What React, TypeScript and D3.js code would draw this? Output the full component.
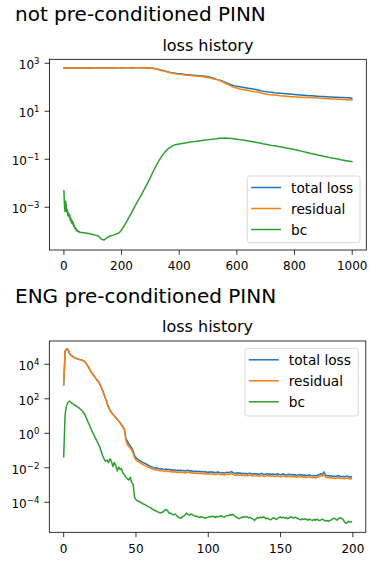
import React from 'react';
import * as d3 from 'd3';

// ---------------- data (log10 of loss values) ----------------
const seriesNames = ['total loss', 'residual', 'bc'];
const seriesColors = ['#1f77b4', '#ff7f0e', '#2ca02c'];

// top panel: not pre-conditioned PINN (1000 epochs, sampled)
const epochsTop = [...d3.range(0, 60, 2), ...d3.range(60, 1000, 10), 999];

const totalTopLog = [
  2.81, 2.80, 2.80, 2.81, 2.79, 2.81, 2.80, 2.80, 2.81, 2.79, 2.80, 2.81, 2.81, 2.80, 2.79,
  2.81, 2.81, 2.80, 2.79, 2.81, 2.80, 2.80, 2.81, 2.79, 2.80, 2.81, 2.81, 2.79, 2.80, 2.81,
  2.81, 2.80, 2.80, 2.81, 2.80, 2.81, 2.81, 2.80, 2.80, 2.82, 2.81, 2.80, 2.81, 2.82, 2.81,
  2.81, 2.82, 2.80, 2.81, 2.81, 2.82, 2.81, 2.80, 2.81, 2.80,
  2.79, 2.77, 2.74, 2.71, 2.68, 2.65, 2.62, 2.60, 2.58, 2.56,
  2.55, 2.53, 2.52, 2.51, 2.50, 2.49, 2.48, 2.47, 2.46, 2.44,
  2.41, 2.38, 2.33, 2.30, 2.26, 2.20, 2.15, 2.11, 2.07, 2.04,
  2.02, 2.00, 1.98, 1.96, 1.94, 1.92, 1.90, 1.87, 1.84, 1.82,
  1.80, 1.79, 1.77, 1.76, 1.75, 1.74, 1.73, 1.72, 1.71, 1.70,
  1.69, 1.68, 1.67, 1.66, 1.65, 1.65, 1.64, 1.63, 1.62, 1.62,
  1.61, 1.60, 1.60, 1.59, 1.59, 1.58, 1.57, 1.56, 1.56, 1.54,
];

const residualTopLog = [
  2.80, 2.79, 2.81, 2.80, 2.78, 2.80, 2.81, 2.79, 2.80, 2.80, 2.79, 2.81, 2.80, 2.79, 2.80,
  2.81, 2.80, 2.79, 2.80, 2.80, 2.81, 2.79, 2.80, 2.80, 2.79, 2.81, 2.80, 2.80, 2.79, 2.80,
  2.80, 2.81, 2.79, 2.80, 2.81, 2.80, 2.80, 2.81, 2.79, 2.81, 2.80, 2.81, 2.82, 2.81, 2.80,
  2.82, 2.81, 2.81, 2.80, 2.82, 2.81, 2.80, 2.81, 2.80, 2.79,
  2.78, 2.76, 2.73, 2.70, 2.67, 2.64, 2.61, 2.58, 2.56, 2.54,
  2.53, 2.51, 2.50, 2.49, 2.48, 2.47, 2.46, 2.45, 2.43, 2.41,
  2.38, 2.35, 2.32, 2.29, 2.23, 2.17, 2.11, 2.05, 2.00, 1.97,
  1.93, 1.91, 1.89, 1.87, 1.84, 1.82, 1.80, 1.78, 1.74, 1.72,
  1.70, 1.69, 1.68, 1.67, 1.65, 1.64, 1.63, 1.62, 1.61, 1.61,
  1.60, 1.59, 1.58, 1.57, 1.57, 1.56, 1.56, 1.55, 1.54, 1.53,
  1.53, 1.52, 1.51, 1.51, 1.50, 1.50, 1.49, 1.48, 1.48, 1.47,
];

const bcTopLog = [
  -2.31, -2.95, -3.18, -2.75, -2.90, -3.20, -3.10, -3.35, -3.25, -3.40,
  -3.30, -3.55, -3.45, -3.65, -3.55, -3.70, -3.62, -3.80, -3.75, -3.88,
  -3.85, -3.95, -3.92, -4.00, -3.98, -4.02, -4.01, -4.04, -4.03, -4.05,
  -4.05, -4.06, -4.08, -4.10, -4.13, -4.16, -4.20, -4.33, -4.36, -4.27,
  -4.20, -4.17, -4.12, -4.08, -3.95, -3.75, -3.55, -3.33, -3.10, -2.88,
  -2.66, -2.45, -2.22, -2.00, -1.76, -1.50, -1.27, -1.05, -0.87, -0.71,
  -0.58, -0.49, -0.42, -0.38, -0.36, -0.34, -0.32, -0.30, -0.28, -0.26,
  -0.25, -0.23, -0.22, -0.20, -0.19, -0.17, -0.15, -0.14, -0.12, -0.12,
  -0.11, -0.12, -0.13, -0.14, -0.16, -0.18, -0.20, -0.22, -0.24, -0.26,
  -0.28, -0.30, -0.32, -0.35, -0.37, -0.39, -0.42, -0.44, -0.46, -0.48,
  -0.50, -0.53, -0.55, -0.57, -0.59, -0.62, -0.65, -0.68, -0.71, -0.74,
  -0.77, -0.79, -0.82, -0.84, -0.87, -0.89, -0.92, -0.95, -0.97, -0.99,
  -1.02, -1.04, -1.06, -1.08, -1.10,
];

// bottom panel: ENG pre-conditioned PINN (200 epochs)
const epochsBottom = d3.range(0, 200);

const totalBottomLog = [
  2.82, 4.76, 4.90, 4.86, 4.63, 4.53, 4.47, 4.41, 4.37, 4.34,
  4.31, 4.28, 4.26, 4.23, 4.19, 4.11, 3.99, 3.87, 3.71, 3.57,
  3.45, 3.33, 3.21, 3.09, 3.01, 2.86, 2.67, 2.46, 2.23, 2.01,
  1.76, 1.51, 1.36, 1.21, 1.11, 1.01, 0.91, 0.81, 0.72, 0.62,
  0.50, 0.38, 0.24, -0.30, -0.45, -0.62, -0.72, -0.85, -1.02, -1.28,
  -1.42, -1.50, -1.55, -1.60, -1.66, -1.70, -1.74, -1.78, -1.83, -1.87,
  -1.92, -1.95, -1.99, -2.01, -2.00, -2.03, -2.05, -2.07, -2.05, -2.08,
  -2.10, -2.07, -2.11, -2.09, -2.13, -2.11, -2.15, -2.12, -2.16, -2.14,
  -2.17, -2.13, -2.18, -2.15, -2.19, -2.16, -2.14, -2.19, -2.17, -2.21,
  -2.18, -2.22, -2.19, -2.23, -2.20, -2.24, -2.21, -2.25, -2.22, -2.27,
  -2.24, -2.26, -2.23, -2.27, -2.25, -2.29, -2.26, -2.24, -2.28, -2.30,
  -2.27, -2.31, -2.28, -2.25, -2.29, -2.26, -2.22, -2.27, -2.31, -2.33,
  -2.29, -2.32, -2.30, -2.34, -2.31, -2.35, -2.32, -2.36, -2.33, -2.31,
  -2.35, -2.37, -2.33, -2.36, -2.34, -2.38, -2.35, -2.33, -2.37, -2.39,
  -2.36, -2.34, -2.38, -2.35, -2.39, -2.36, -2.40, -2.37, -2.35, -2.39,
  -2.41, -2.38, -2.36, -2.40, -2.42, -2.39, -2.37, -2.41, -2.38, -2.42,
  -2.40, -2.44, -2.41, -2.39, -2.43, -2.40, -2.44, -2.42, -2.46, -2.43,
  -2.41, -2.45, -2.47, -2.44, -2.48, -2.45, -2.42, -2.39, -2.34, -2.37,
  -2.24, -2.41, -2.47, -2.44, -2.49, -2.46, -2.50, -2.47, -2.51, -2.48,
  -2.45, -2.49, -2.52, -2.49, -2.53, -2.50, -2.47, -2.51, -2.55, -2.52,
];

const residualBottomLog = [
  2.80, 4.75, 4.89, 4.85, 4.62, 4.52, 4.46, 4.40, 4.36, 4.33,
  4.30, 4.27, 4.25, 4.22, 4.18, 4.10, 3.98, 3.86, 3.70, 3.56,
  3.44, 3.32, 3.20, 3.08, 3.00, 2.85, 2.66, 2.45, 2.22, 2.00,
  1.75, 1.50, 1.35, 1.20, 1.10, 1.00, 0.90, 0.80, 0.70, 0.60,
  0.48, 0.35, 0.20, -0.40, -0.65, -0.77, -0.85, -0.97, -1.15, -1.40,
  -1.55, -1.62, -1.66, -1.72, -1.78, -1.82, -1.86, -1.90, -1.95, -1.98,
  -2.03, -2.06, -2.09, -2.12, -2.10, -2.14, -2.16, -2.18, -2.15, -2.19,
  -2.21, -2.17, -2.22, -2.20, -2.24, -2.22, -2.26, -2.23, -2.27, -2.25,
  -2.28, -2.24, -2.29, -2.26, -2.30, -2.27, -2.25, -2.30, -2.28, -2.32,
  -2.29, -2.33, -2.30, -2.34, -2.31, -2.35, -2.32, -2.36, -2.33, -2.38,
  -2.35, -2.37, -2.34, -2.38, -2.36, -2.40, -2.37, -2.35, -2.39, -2.41,
  -2.38, -2.42, -2.39, -2.36, -2.40, -2.37, -2.33, -2.38, -2.42, -2.44,
  -2.40, -2.43, -2.41, -2.45, -2.42, -2.46, -2.43, -2.47, -2.44, -2.42,
  -2.46, -2.48, -2.44, -2.47, -2.45, -2.49, -2.46, -2.44, -2.48, -2.50,
  -2.47, -2.45, -2.49, -2.46, -2.50, -2.47, -2.51, -2.48, -2.46, -2.50,
  -2.52, -2.49, -2.47, -2.51, -2.53, -2.50, -2.48, -2.52, -2.49, -2.53,
  -2.51, -2.55, -2.52, -2.50, -2.54, -2.51, -2.55, -2.53, -2.57, -2.54,
  -2.52, -2.56, -2.58, -2.55, -2.59, -2.56, -2.53, -2.50, -2.45, -2.48,
  -2.35, -2.52, -2.58, -2.55, -2.60, -2.57, -2.61, -2.58, -2.62, -2.59,
  -2.56, -2.60, -2.63, -2.60, -2.64, -2.61, -2.58, -2.62, -2.66, -2.63,
];

const bcBottomLog = [
  -1.36, 1.10, 1.60, 1.80, 1.87, 1.80, 1.72, 1.68, 1.62, 1.56,
  1.50, 1.44, 1.36, 1.28, 1.18, 1.02, 0.82, 0.62, 0.45, 0.25,
  0.05, -0.10, -0.28, -0.45, -0.62, -0.80, -1.05, -1.30, -1.50, -1.62,
  -1.55, -1.70, -1.48, -1.62, -1.92, -1.70, -1.85, -2.18, -1.95, -2.10,
  -2.05, -2.30, -2.40, -2.55, -2.62, -2.70, -2.55, -2.85, -2.95, -3.70,
  -3.85, -3.92, -3.95, -3.98, -4.05, -4.10, -4.12, -4.18, -4.22, -4.28,
  -4.30, -4.38, -4.42, -4.48, -4.50, -4.55, -4.60, -4.62, -4.58, -4.55,
  -4.45, -4.42, -4.50, -4.65, -4.62, -4.70, -4.72, -4.68, -4.75, -4.85,
  -4.90, -4.92, -4.85, -4.80, -4.72, -4.62, -4.70, -4.75, -4.68, -4.72,
  -4.78, -4.82, -4.80, -4.85, -4.88, -4.84, -4.86, -4.90, -4.92, -4.88,
  -4.86, -4.82, -4.85, -4.80, -4.84, -4.88, -4.82, -4.85, -4.80, -4.78,
  -4.83, -4.86, -4.80, -4.76, -4.78, -4.72, -4.75, -4.70, -4.78, -4.84,
  -4.90, -4.95, -4.92, -4.88, -4.85, -4.82, -4.86, -4.84, -4.90, -4.88,
  -4.94, -4.98, -5.05, -4.96, -4.88, -4.92, -4.86, -4.90, -4.84, -4.88,
  -4.95, -4.92, -4.98, -5.02, -4.96, -4.90, -4.93, -5.00, -4.94, -4.88,
  -4.85, -4.90, -4.86, -4.92, -4.88, -4.95, -4.90, -4.84, -4.88, -4.92,
  -4.86, -4.90, -4.94, -4.98, -5.02, -4.96, -5.00, -4.95, -5.00, -5.04,
  -4.98, -5.02, -5.05, -5.00, -5.04, -4.98, -5.03, -5.06, -5.02, -4.98,
  -5.04, -5.08, -5.05, -5.10, -5.06, -5.02, -4.96, -4.92, -4.98, -5.04,
  -4.94, -4.90, -4.92, -4.98, -5.10, -5.22, -5.18, -5.10, -5.14, -5.13,
];

const titleTop = 'not pre-conditioned PINN';
const titleBottom = 'ENG pre-conditioned PINN';
const axesTitle = 'loss history';
const xTicksTop = [0, 200, 400, 600, 800, 1000];
const xTicksBottom = [0, 50, 100, 150, 200];
const yTickExpTop = [3, 1, -1, -3];
const yTickExpBottom = [4, 2, 0, -2, -4];

// ---------------- drawing ----------------
const FONT = '"DejaVu Sans", sans-serif';

type PanelProps = {
  id: string;
  suptitle: string;
  suptitleY: number;
  box: { left: number; right: number; top: number; bottom: number };
  xDomain: [number, number];
  yLogDomain: [number, number];
  xTicks: number[];
  yTickExps: number[];
  epochs: number[];
  series: number[][];
  legend: { x: number; y: number; w: number; h: number };
};

function fmtExp(e: number) {
  return e < 0 ? '\u2212' + Math.abs(e) : String(e);
}

function Panel(p: PanelProps) {
  const { box } = p;
  const x = d3.scaleLinear().domain(p.xDomain).range([box.left, box.right]);
  const y = d3
    .scaleLog()
    .domain([Math.pow(10, p.yLogDomain[0]), Math.pow(10, p.yLogDomain[1])])
    .range([box.bottom, box.top]);
  const line = d3
    .line<[number, number]>()
    .defined((d) => d[1] !== undefined && !isNaN(d[1]))
    .x((d) => x(d[0]))
    .y((d) => y(Math.pow(10, d[1])));
  const cx = (box.left + box.right) / 2;
  const rowY = [0, 1, 2].map((i) => p.legend.y + 11.5 + i * 21);
  return (
    <g>
      <defs>
        <clipPath id={p.id}>
          <rect x={box.left} y={box.top} width={box.right - box.left} height={box.bottom - box.top} />
        </clipPath>
      </defs>
      <text x={15} y={p.suptitleY} fontSize={20} fontFamily={FONT} fill="#000">
        {p.suptitle}
      </text>
      <text x={cx} y={box.top - 8.6} fontSize={16} fontFamily={FONT} textAnchor="middle" fill="#000">
        {axesTitle}
      </text>
      <g clipPath={`url(#${p.id})`}>
        {p.series.map((vals, i) => (
          <path
            key={i}
            d={line(p.epochs.map((e, j) => [e, vals[j]] as [number, number])) || ''}
            fill="none"
            stroke={seriesColors[i]}
            strokeWidth={1.5}
            strokeLinejoin="round"
            strokeLinecap="square"
          />
        ))}
      </g>
      <rect
        x={box.left}
        y={box.top}
        width={box.right - box.left}
        height={box.bottom - box.top}
        fill="none"
        stroke="#000"
        strokeWidth={0.8}
      />
      {p.xTicks.map((t) => (
        <g key={'x' + t}>
          <line x1={x(t)} x2={x(t)} y1={box.bottom} y2={box.bottom + 4.9} stroke="#000" strokeWidth={0.8} />
          <text x={x(t)} y={box.bottom + 20.2} fontSize={12} fontFamily={FONT} textAnchor="middle" fill="#000">
            {t}
          </text>
        </g>
      ))}
      {p.yTickExps.map((e) => {
        const ty = y(Math.pow(10, e));
        return (
          <g key={'y' + e}>
            <line x1={box.left - 4.9} x2={box.left} y1={ty} y2={ty} stroke="#000" strokeWidth={0.8} />
            <text x={box.left - 10} y={ty + 5.8} fontSize={12} fontFamily={FONT} textAnchor="end" fill="#000">
              10
              <tspan dy={-5} fontSize={8.5}>
                {fmtExp(e)}
              </tspan>
            </text>
          </g>
        );
      })}
      <rect
        x={p.legend.x}
        y={p.legend.y}
        width={p.legend.w}
        height={p.legend.h}
        rx={2.5}
        fill="#fff"
        fillOpacity={0.8}
        stroke="#d0d0d0"
        strokeWidth={0.8}
      />
      {seriesNames.map((name, i) => (
        <g key={name}>
          <line
            x1={p.legend.x + 3.8}
            x2={p.legend.x + 33.8}
            y1={rowY[i]}
            y2={rowY[i]}
            stroke={seriesColors[i]}
            strokeWidth={1.5}
          />
          <text x={p.legend.x + 43.8} y={rowY[i] + 5} fontSize={13.7} fontFamily={FONT} fill="#000">
            {name}
          </text>
        </g>
      ))}
    </g>
  );
}

export default function App() {
  return (
    <svg
      width={380}
      height={566}
      viewBox="0 0 380 566"
      style={{ position: 'absolute', left: 0, top: 0, background: '#fff' }}
    >
      <rect width={380} height={566} fill="#fff" />
      <Panel
        id="clipTop"
        suptitle={titleTop}
        suptitleY={21}
        box={{ left: 49.5, right: 366.3, top: 59.3, bottom: 250 }}
        xDomain={[-49.95, 1048.95]}
        yLogDomain={[-4.78, 3.167]}
        xTicks={xTicksTop}
        yTickExps={yTickExpTop}
        epochs={epochsTop}
        series={[totalTopLog, residualTopLog, bcTopLog]}
        legend={{ x: 247.3, y: 176, w: 112.7, h: 66.7 }}
      />
      <Panel
        id="clipBottom"
        suptitle={titleBottom}
        suptitleY={303}
        box={{ left: 49.3, right: 365.8, top: 341, bottom: 532.3 }}
        xDomain={[-9.95, 208.95]}
        yLogDomain={[-5.74, 5.35]}
        xTicks={xTicksBottom}
        yTickExps={yTickExpBottom}
        epochs={epochsBottom}
        series={[totalBottomLog, residualBottomLog, bcBottomLog]}
        legend={{ x: 245, y: 348.3, w: 113.3, h: 67.7 }}
      />
    </svg>
  );
}
